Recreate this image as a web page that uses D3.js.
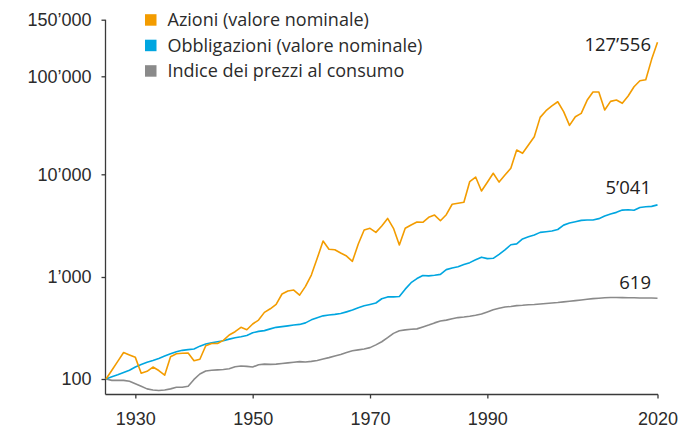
<!DOCTYPE html>
<html>
<head>
<meta charset="utf-8">
<script src="https://cdn.jsdelivr.net/npm/d3@7"></script>
<style>
  html, body { margin: 0; padding: 0; background: #fff; }
  svg { display: block; font-family: "Open Sans", "Noto Sans", sans-serif; }
  .axis path, .axis line { stroke: #3a3a3a; stroke-width: 1.3; }
  .axis text { fill: #2b2b2b; font-size: 18px; }
</style>
</head>
<body>
<svg id="chart" width="680" height="430"></svg>
<script>
// Annual index levels, 1925 = 100
const firstYear = 1925;

const azioni = [
  100, 122, 149, 182, 172, 163, 114, 119, 131, 121,
  109, 165, 177, 179, 180, 151, 156, 212, 223, 223,
  239, 270, 291, 321, 304, 346, 378, 450, 488, 539,
  681, 729, 745, 664, 810, 1045, 1520, 2240, 1860, 1845,
  1713, 1600, 1422, 2096, 2870, 2980, 2720, 3140, 3720, 2980,
  2050, 2980, 3210, 3430, 3410, 3810, 4010, 3530, 4040, 5110,
  5220, 5340, 8500, 9410, 6880, 8360, 10240, 8400, 9840, 11510,
  17700, 16380, 19900, 24200, 38100, 44600, 49800, 55000, 43600, 31600,
  38700, 41900, 56900, 69200, 69200, 45300, 55500, 57300, 53000, 62900,
  78300, 90100, 92300, 112900, 127556
];

const obbligazioni = [
  100, 105, 110, 116, 122, 131, 139, 146, 152, 159,
  168, 177, 185, 191, 194, 197, 210, 220, 227, 232,
  237, 246, 254, 260, 267, 284, 293, 298, 310, 321,
  326, 332, 338, 343, 355, 380, 399, 416, 424, 430,
  438, 455, 474, 500, 522, 538, 556, 612, 638, 638,
  645, 760, 880, 965, 1035, 1025, 1040, 1060, 1180, 1225,
  1260, 1320, 1380, 1470, 1560, 1510, 1520, 1660, 1840, 2060,
  2100, 2350, 2460, 2570, 2720, 2760, 2800, 2900, 3200, 3350,
  3450, 3560, 3590, 3590, 3700, 3920, 4100, 4260, 4480, 4520,
  4470, 4750, 4830, 4870, 5041
];

const prezziConsumo = [
  100, 97, 97, 97, 95, 90, 85, 80, 78, 77,
  78, 80, 83, 83, 85, 99, 112, 120, 122, 123,
  124, 126, 132, 134, 133, 131, 138, 140, 139, 140,
  142, 144, 146, 148, 147, 149, 152, 157, 162, 168,
  174, 182, 189, 193, 197, 203, 216, 232, 254, 280,
  297, 303, 307, 310, 324, 338, 355, 370, 378, 389,
  400, 405, 412, 421, 434, 455, 477, 493, 508, 514,
  524, 528, 535, 537, 543, 550, 556, 562, 570, 578,
  587, 596, 605, 614, 620, 626, 630, 630, 628, 627,
  625, 622, 622, 623, 619
];

const seriesNames = [
  "Azioni (valore nominale)",
  "Obbligazioni (valore nominale)",
  "Indice dei prezzi al consumo"
];
const endLabels = ["127’556", "5’041", "619"];

const yTickValues = [100, 1000, 10000, 100000, 150000];
const yTickLabels = ["100", "1’000", "10’000", "100’000", "150’000"];
const xTickValues = [1930, 1950, 1970, 1990, 2019];
const xTickLabels = ["1930", "1950", "1970", "1990", "2020"];

const colors = ["#F39C00", "#00A6E0", "#8A8A8A"];

const svg = d3.select("#chart");

const x = d3.scaleLinear().domain([firstYear, 2019]).range([106, 657.5]);
// log scale, piecewise so the top tick sits at the top of the axis
const y = d3.scaleLog()
  .domain(yTickValues)
  .range([379, 277, 174.3, 76.3, 19.7]);

// Y axis
const yAxis = d3.axisLeft(y)
  .tickValues(yTickValues)
  .tickFormat((d, i) => yTickLabels[i])
  .tickSize(4)
  .tickPadding(10)
  .tickSizeOuter(0);
const gy = svg.append("g").attr("class", "axis").attr("transform", "translate(105.5,0)").call(yAxis);
gy.select(".domain").attr("d", "M0,19.7V394.5");

// X axis
const xAxis = d3.axisBottom(x)
  .tickValues(xTickValues)
  .tickFormat((d, i) => xTickLabels[i])
  .tickSize(4)
  .tickPadding(13.5)
  .tickSizeOuter(0);
const gx = svg.append("g").attr("class", "axis").attr("transform", "translate(0,394.5)").call(xAxis);
gx.select(".domain").attr("d", "M105.5,0H658");

// Lines
const allSeries = [azioni, obbligazioni, prezziConsumo];
const line = d3.line()
  .x((d, i) => x(firstYear + i))
  .y(d => y(d));

// draw CPI first, stocks on top
[2, 1, 0].forEach(k => {
  svg.append("path")
    .datum(allSeries[k])
    .attr("fill", "none")
    .attr("stroke", colors[k])
    .attr("stroke-width", 1.6)
    .attr("stroke-linejoin", "round")
    .attr("d", line);
});

// End labels
const labelOffsets = [8.7, -10.5, -9.2];
allSeries.forEach((s, k) => {
  svg.append("text")
    .attr("x", 651)
    .attr("y", y(s[s.length - 1]) + labelOffsets[k])
    .attr("text-anchor", "end")
    .attr("fill", "#222")
    .attr("font-size", 18.5)
    .text(endLabels[k]);
});

// Legend
const legend = svg.append("g");
seriesNames.forEach((name, k) => {
  legend.append("rect")
    .attr("x", 145).attr("y", 14.2 + k * 25.5)
    .attr("width", 11.5).attr("height", 11.5)
    .attr("fill", colors[k]);
  legend.append("text")
    .attr("x", 167.5).attr("y", 26 + k * 25.5)
    .attr("fill", "#2b2b2b")
    .attr("font-size", 18)
    .text(name);
});
</script>
</body>
</html>
